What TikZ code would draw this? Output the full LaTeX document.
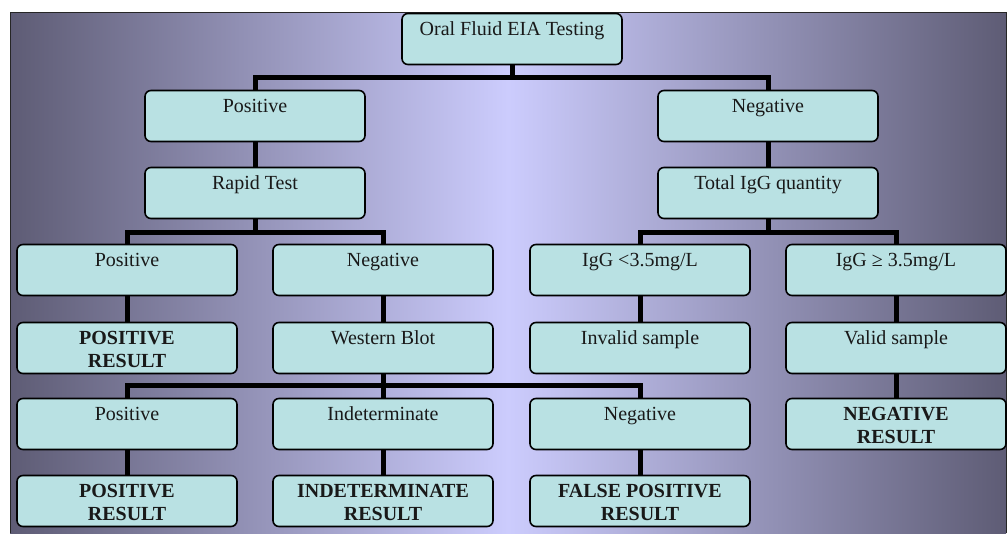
\documentclass[tikz,border=0pt]{standalone}
\usepackage{fontspec}
\setmainfont{Liberation Serif}
\definecolor{boxfill}{HTML}{B9E1E3}
\definecolor{rim}{HTML}{5E5C75}
\definecolor{glow}{HTML}{CCCCFD}
% box contents: text hangs from the top of a fixed 220x51 frame
\newcommand\celltext[1]{\parbox[c][51pt][t]{220pt}{\centering\rule{0pt}{21.5pt}#1}}
\tikzset{
  box/.style={draw=black, line width=1.6pt, rounded corners=6pt, fill=boxfill,
    inner sep=0pt, text=black!90, font=\fontsize{20}{23}\selectfont},
  result/.style={box, font=\fontsize{20}{23}\selectfont\bfseries},
  link/.style={line width=5pt, line join=miter},
}
\begin{document}
\begin{tikzpicture}[x=1pt,y=-1pt]
\useasboundingbox (0,0) rectangle (1007,533);
% panel
\shade[left color=rim, right color=rim, middle color=glow] (10,12) rectangle (1006,533);
\draw[line width=0.8pt, black!85] (10,533) -- (10,12) -- (1006,12) -- (1006,533);

% level 0
\node[box] (root) at (512,39) {\celltext{Oral Fluid EIA Testing}};
% level 1
\node[box] (pos) at (255,116) {\celltext{Positive}};
\node[box] (neg) at (768,116) {\celltext{Negative}};
% level 2
\node[box] (rapid) at (255,193) {\celltext{Rapid Test}};
\node[box] (igg) at (768,193) {\celltext{Total IgG quantity}};
% level 3
\node[box] (rpos) at (127,270) {\celltext{Positive}};
\node[box] (rneg) at (383,270) {\celltext{Negative}};
\node[box] (low) at (640,270) {\celltext{IgG <3.5mg/L}};
\node[box] (high) at (896,270) {\celltext{IgG ≥ 3.5mg/L}};
% level 4
\node[result] (posres1) at (127,348) {\celltext{POSITIVE\\RESULT}};
\node[box] (wb) at (383,348) {\celltext{Western Blot}};
\node[box] (invalid) at (640,348) {\celltext{Invalid sample}};
\node[box] (valid) at (896,348) {\celltext{Valid sample}};
% level 5
\node[box] (wpos) at (127,424) {\celltext{Positive}};
\node[box] (wind) at (383,424) {\celltext{Indeterminate}};
\node[box] (wneg) at (640,424) {\celltext{Negative}};
\node[result] (negres) at (896,424) {\celltext{NEGATIVE\\RESULT}};
% level 6
\node[result] (posres2) at (127,501) {\celltext{POSITIVE\\RESULT}};
\node[result] (indres) at (383,501) {\celltext{INDETERMINATE\\RESULT}};
\node[result] (fpres) at (640,501) {\celltext{FALSE POSITIVE\\RESULT}};

% branch points
\coordinate (j0) at (512,77);
\coordinate (j1) at (255,232);
\coordinate (j2) at (768,232);
\coordinate (j3) at (383,385);

% connectors
\draw[link] (root.south) -- (j0);
\draw[link] (pos.north) |- (j0) -| (neg.north);
\draw[link] (pos.south) -- (rapid.north);
\draw[link] (neg.south) -- (igg.north);
\draw[link] (rapid.south) -- (j1);
\draw[link] (rpos.north) |- (j1) -| (rneg.north);
\draw[link] (igg.south) -- (j2);
\draw[link] (low.north) |- (j2) -| (high.north);
\draw[link] (rpos.south) -- (posres1.north);
\draw[link] (rneg.south) -- (wb.north);
\draw[link] (low.south) -- (invalid.north);
\draw[link] (high.south) -- (valid.north);
\draw[link] (valid.south) -- (negres.north);
\draw[link] (wb.south) -- (wind.north);
\draw[link] (wpos.north) |- (j3) -| (wneg.north);
\draw[link] (wpos.south) -- (posres2.north);
\draw[link] (wind.south) -- (indres.north);
\draw[link] (wneg.south) -- (fpres.north);
\end{tikzpicture}
\end{document}
